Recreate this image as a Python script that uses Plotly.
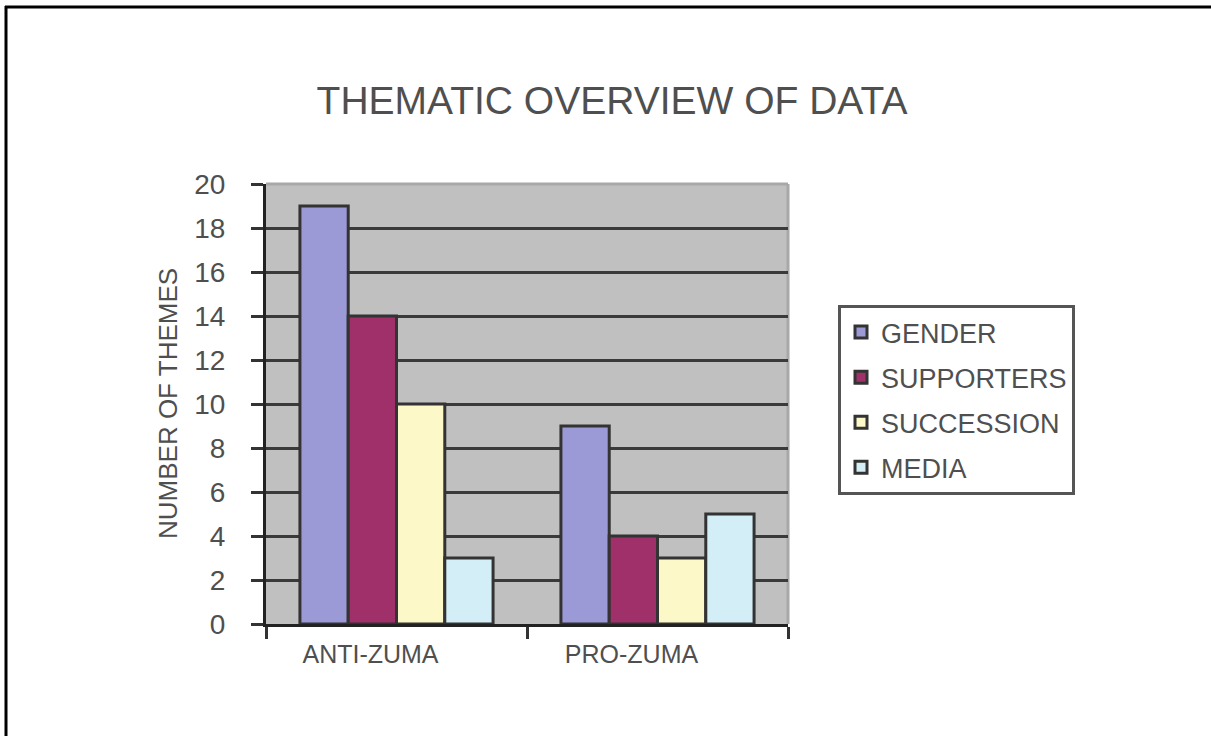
import plotly.graph_objects as go

# Theme counts per camp
categories = ["ANTI-ZUMA", "PRO-ZUMA"]
gender = [19, 9]
supporters = [14, 4]
succession = [10, 3]
media = [3, 5]
series_names = ["GENDER", "SUPPORTERS", "SUCCESSION", "MEDIA"]
y_tick_values = [0, 2, 4, 6, 8, 10, 12, 14, 16, 18, 20]

W, H = 1211, 736
L, R, T, B = 266, 423, 184, 112
PW, PH = W - L - R, H - T - B

colors = ["#9b99d6", "#a0306a", "#fdf8c8", "#d3eef7"]
FONT = "Liberation Sans, Arial, sans-serif"
TEXT = "#4f4f4f"
DARK = "#333333"


def px_x(p):
    return (p - L) / PW


def px_y(p):
    return (H - B - p) / PH


fig = go.Figure()
for name, vals, color in zip(series_names, [gender, supporters, succession, media], colors):
    fig.add_bar(
        x=categories, y=vals, name=name, legendgroup=name,
        marker=dict(color=color, line=dict(color=DARK, width=3)),
    )

fig.update_layout(
    width=W, height=H,
    margin=dict(l=L, r=R, t=T, b=B, autoexpand=False),
    paper_bgcolor="white", plot_bgcolor="#c0c0c0",
    barmode="group", bargap=0.26, bargroupgap=0,
    font=dict(family=FONT, color=TEXT),
    title=dict(
        text="THEMATIC OVERVIEW OF DATA", font=dict(size=39, color=TEXT),
        xref="container", x=612 / W, xanchor="center",
        yref="container", y=1 - 100 / H, yanchor="middle",
    ),
    legend=dict(
        x=px_x(838), y=px_y(305), xanchor="left", yanchor="top",
        bgcolor="white", bordercolor="#555555", borderwidth=3,
        font=dict(size=27, color=TEXT), tracegroupgap=7,
    ),
)

fig.update_yaxes(
    range=[0, 20], tickvals=y_tick_values, ticks="outside", ticklen=12,
    tickwidth=3, tickcolor=DARK, showgrid=True, gridcolor="#3a3a3a",
    gridwidth=3, zeroline=False, showline=True, linecolor="#222222",
    linewidth=3, tickfont=dict(size=28, color=TEXT), ticklabelstandoff=20,
)
fig.update_xaxes(
    tickson="boundaries", ticks="outside", ticklen=12, tickwidth=3,
    tickcolor=DARK, showgrid=False, showline=True, linecolor="#222222",
    linewidth=3, tickfont=dict(size=25, color=TEXT), ticklabelshift=-26,
    ticklabelstandoff=6,
)

# Y axis title
fig.add_annotation(
    text="NUMBER OF THEMES", textangle=-90, showarrow=False,
    xref="paper", yref="paper", x=px_x(168), y=0.5,
    xanchor="center", yanchor="middle",
    font=dict(size=26, color=TEXT),
)

# Light top and right edges of the plot area
fig.add_shape(type="line", xref="paper", yref="paper", x0=0, x1=1, y0=1, y1=1,
              line=dict(color="#a8a8a8", width=3), layer="between")
fig.add_shape(type="line", xref="paper", yref="paper", x0=1, x1=1, y0=0, y1=1,
              line=dict(color="#a8a8a8", width=3), layer="between")

# Frame along the left and top of the page
fig.add_shape(type="line", xref="paper", yref="paper",
              x0=px_x(6), x1=px_x(6), y0=px_y(H), y1=px_y(6),
              line=dict(color="black", width=3))
fig.add_shape(type="line", xref="paper", yref="paper",
              x0=px_x(5), x1=px_x(W), y0=px_y(7), y1=px_y(7),
              line=dict(color="black", width=3))

fig.write_html("out.html")
